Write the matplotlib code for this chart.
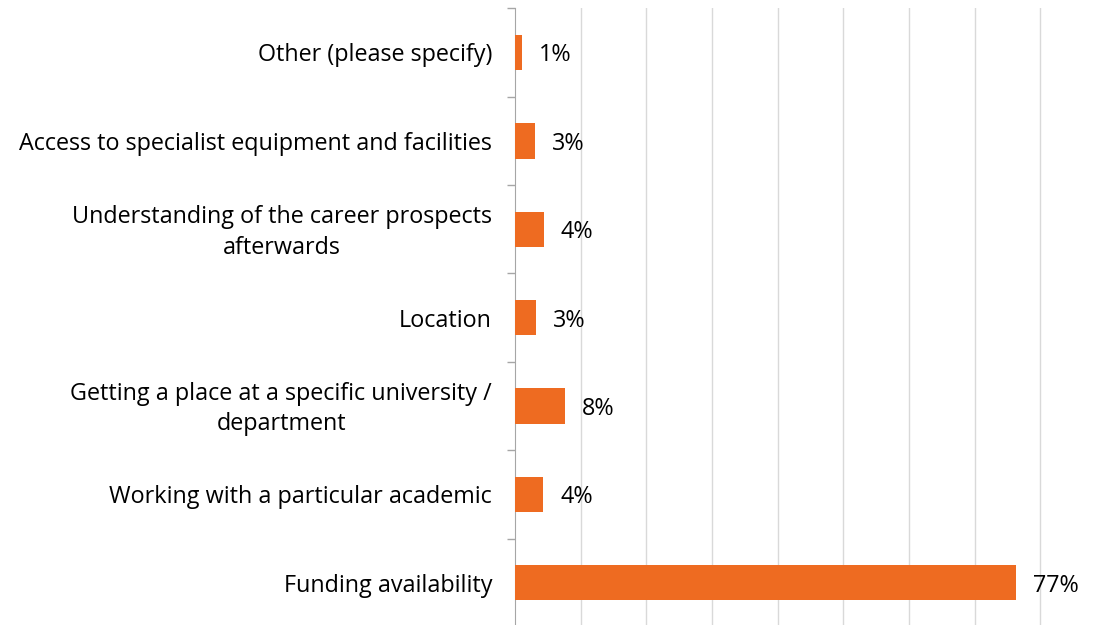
import matplotlib
matplotlib.use("Agg")
import matplotlib.pyplot as plt
from matplotlib.ticker import FixedLocator, NullFormatter

categories = [
    "Funding availability",
    "Working with a particular academic",
    "Getting a place at a specific university /\ndepartment",
    "Location",
    "Understanding of the career prospects\nafterwards",
    "Access to specialist equipment and facilities",
    "Other (please specify)",
]
values = [76.3, 4.3, 7.6, 3.2, 4.4, 3.1, 1.1]
labels = ["77%", "4%", "8%", "3%", "4%", "3%", "1%"]

plt.rcParams['font.family'] = ['Open Sans', 'DejaVu Sans']

W, H = 1103, 625
fig = plt.figure(figsize=(W / 100, H / 100), dpi=100)
left_px, right_px, top_px, bottom_px = 515, 1106, 8.3, 627
ax = fig.add_axes([left_px / W, (H - bottom_px) / H,
                   (right_px - left_px) / W, (bottom_px - top_px) / H])

y = list(range(len(categories)))
ax.barh(y, values, height=0.40, color="#EE6B21", zorder=3)
ax.set_xlim(0, 90)
ax.set_ylim(-0.5, len(categories) - 0.5)

ax.xaxis.set_major_locator(FixedLocator([10, 20, 30, 40, 50, 60, 70, 80, 90]))
ax.grid(axis='x', color='#d9d9d9', linewidth=1, zorder=0)
ax.tick_params(axis='x', length=0, labelbottom=False)

ax.yaxis.set_major_locator(FixedLocator([i - 0.5 for i in range(len(categories) + 1)]))
ax.yaxis.set_major_formatter(NullFormatter())
ax.tick_params(axis='y', direction='out', length=6, color='#a6a6a6', width=1)

for s in ['top', 'right', 'bottom']:
    ax.spines[s].set_visible(False)
ax.spines['left'].set_color('#a6a6a6')

for i, (cat, v, lab) in enumerate(zip(categories, values, labels)):
    ax.annotate(cat, xy=(0, i), xytext=(-23, -3), textcoords='offset pixels',
                ha='right', va='center', fontsize=16.8, color='#000000', multialignment='center',
                linespacing=1.38)
    ax.annotate(lab, xy=(v, i), xytext=(17, -3), textcoords='offset pixels',
                ha='left', va='center', fontsize=16.8, color='#000000')

fig.savefig("out.png", dpi=100)
